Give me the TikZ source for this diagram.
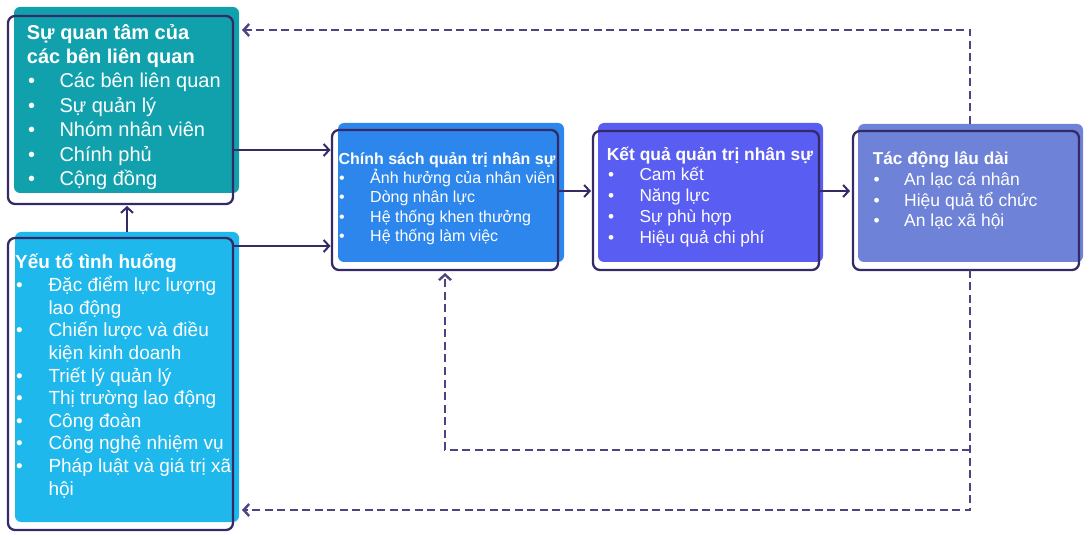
\documentclass[tikz,border=0pt]{standalone}
\usepackage{fontspec}
\setmainfont{Liberation Sans}
\usetikzlibrary{arrows.meta}
\definecolor{cA}{HTML}{10A1AD}
\definecolor{cB}{HTML}{1EB8EC}
\definecolor{cC}{HTML}{2D86EC}
\definecolor{cD}{HTML}{5A5DF2}
\definecolor{cE}{HTML}{6E82D8}
\definecolor{lnc}{HTML}{352A66}
\definecolor{dnc}{HTML}{4A4484}
\begin{document}
\begin{tikzpicture}[x=1pt,y=-1pt,
  fillbox/.style={rectangle, rounded corners=6pt, inner sep=0pt, outer sep=0pt},
  outl/.style={rectangle, draw=lnc, line width=2.3pt, rounded corners=7pt, inner sep=0pt, outer sep=0pt},
  txt/.style={inner sep=0pt, anchor=base west, text=white},
  arr/.style={draw=lnc, line width=2pt, -{Straight Barb[length=5.5pt,width=12pt]}},
  dasharr/.style={arr, draw=dnc, line width=2.4pt, dash pattern=on 8pt off 4.5pt}]
\useasboundingbox (0,0) rectangle (1090,537);

% fills
\node[fillbox, fill=cA, minimum width=225pt, minimum height=186pt] (f1) at (126.5,100) {};
\node[fillbox, fill=cB, minimum width=224pt, minimum height=290pt] (f2) at (127,377) {};
\node[fillbox, fill=cC, minimum width=226pt, minimum height=139pt] (f3) at (451,192.5) {};
\node[fillbox, fill=cD, minimum width=225pt, minimum height=139pt] (f4) at (710.5,192.5) {};
\node[fillbox, fill=cE, minimum width=225pt, minimum height=138pt] (f5) at (970.5,193) {};

% box 1 text
\node[txt, font=\fontsize{20}{24}\selectfont\bfseries] (h1a) at (26.7,39.3) {Sự quan tâm của};
\node[txt, font=\fontsize{20}{24}\selectfont\bfseries] (h1b) at (26.7,63.5) {các bên liên quan};
\foreach \s [count=\i from 0] in {Các bên liên quan, Sự quản lý, Nhóm nhân viên, Chính phủ, Cộng đồng} {
  \node[txt, font=\fontsize{20}{24}\selectfont] (u1-\i) at (28,88+\i*24.5) {•};
  \node[txt, font=\fontsize{20}{24}\selectfont] (t1-\i) at (59.3,88+\i*24.5) {\s};
}

% box 2 text
\node[txt, font=\fontsize{19}{22}\selectfont\bfseries] (h2) at (15,268.5) {Yếu tố tình huống};
\foreach \b/\s [count=\i from 0] in {1/Đặc điểm lực lượng, 0/lao động, 1/Chiến lược và điều, 0/kiện kinh doanh, 1/Triết lý quản lý, 1/Thị trường lao động, 1/Công đoàn, 1/Công nghệ nhiệm vụ, 1/Pháp luật và giá trị xã, 0/hội} {
  \ifnum\b=1
    \node[txt, font=\fontsize{19}{22}\selectfont] (u2-\i) at (16,291.7+\i*22.6) {•};
  \fi
  \node[txt, font=\fontsize{19}{22}\selectfont] (t2-\i) at (48.3,291.7+\i*22.6) {\s};
}

% box 3 text
\node[txt, font=\fontsize{16}{19}\selectfont\bfseries] (h3) at (338.3,164.3) {Chính sách quản trị nhân sự};
\foreach \s [count=\i from 0] in {Ảnh hưởng của nhân viên, Dòng nhân lực, Hệ thống khen thưởng, Hệ thống làm việc} {
  \node[txt, font=\fontsize{16}{19}\selectfont] (u3-\i) at (339,183.3+\i*19.4) {•};
  \node[txt, font=\fontsize{16}{19}\selectfont] (t3-\i) at (370,183.3+\i*19.4) {\s};
}

% box 4 text
\node[txt, font=\fontsize{17.4}{20}\selectfont\bfseries] (h4) at (606.7,161) {Kết quả quản trị nhân sự};
\foreach \s [count=\i from 0] in {Cam kết, Năng lực, Sự phù hợp, Hiệu quả chi phí} {
  \node[txt, font=\fontsize{17.3}{20}\selectfont] (u4-\i) at (608,181+\i*20.7) {•};
  \node[txt, font=\fontsize{17.3}{20}\selectfont] (t4-\i) at (639.3,181+\i*20.7) {\s};
}

% box 5 text
\node[txt, font=\fontsize{17.2}{20}\selectfont\bfseries] (h5) at (872.7,165) {Tác động lâu dài};
\foreach \s [count=\i from 0] in {An lạc cá nhân, Hiệu quả tổ chức, An lạc xã hội} {
  \node[txt, font=\fontsize{17.5}{20}\selectfont] (u5-\i) at (873.5,186+\i*20.3) {•};
  \node[txt, font=\fontsize{17.5}{20}\selectfont] (t5-\i) at (904,186+\i*20.3) {\s};
}

% outlines
\node[outl, minimum width=225pt, minimum height=188pt] (b1) at (120.5,110) {};
\node[outl, minimum width=225pt, minimum height=292pt] (b2) at (120.5,384) {};
\node[outl, minimum width=226pt, minimum height=140pt] (b3) at (445,200) {};
\node[outl, minimum width=226pt, minimum height=139pt] (b4) at (706,200.5) {};
\node[outl, minimum width=226pt, minimum height=139pt] (b5) at (966,200.5) {};

% helper coordinates
\coordinate (yT) at (0,30);
\coordinate (yB) at (0,510);
\coordinate (yM) at (0,450);
\coordinate (xR) at (970,0);
\coordinate (xM) at (445,0);
\coordinate (xV) at (127,0);
\coordinate (y13) at (0,150);
\coordinate (y23) at (0,246);
\coordinate (y34) at (0,191);

% solid connectors
\draw[arr, shorten >=1.5pt] (b1.east |- y13) -- (b3.west |- y13);
\draw[arr, shorten >=1.5pt] (b2.east |- y23) -- (b3.west |- y23);
\draw[arr, shorten >=2pt] (f2.north -| xV) -- (b1.south -| xV);
\draw[arr, shorten >=2pt] (b3.east |- y34) -- (b4.west |- y34);
\draw[arr, shorten >=3pt] (b4.east |- y34) -- (b5.west |- y34);

% dashed feedback connectors
\draw[dasharr, shorten >=3pt] (f5.north -| xR) |- (f1.east |- yT);
\draw[dasharr, shorten >=3pt] (b5.south -| xR) |- (f2.east |- yB);
\draw[dasharr, shorten >=3pt] (xR |- yM) -| (b3.south -| xM);
\end{tikzpicture}
\end{document}
